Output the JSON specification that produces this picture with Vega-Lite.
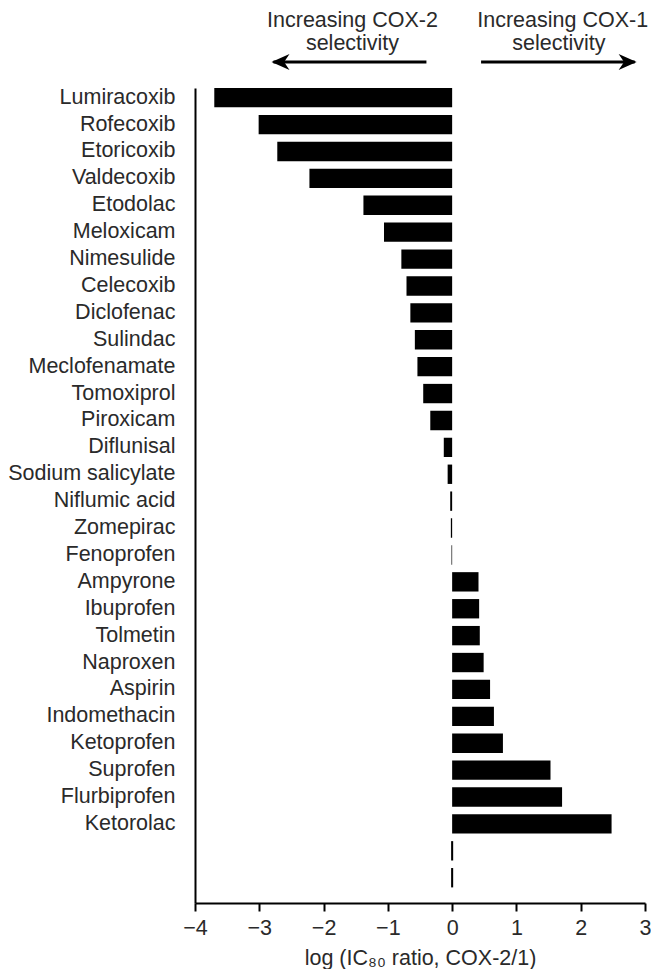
{
  "$schema": "https://vega.github.io/schema/vega-lite/v6.json",
  "background": "white",
  "padding": {"left": 7, "top": 5, "right": 0, "bottom": 0},
  "spacing": 11,
  "config": {
    "view": {"stroke": null},
    "font": "Liberation Sans",
    "text": {"font": "Liberation Sans"}
  },
  "vconcat": [
    {
      "width": 450,
      "height": 70,
      "data": {"values": [
        {"x": -1.55, "y": 1.6, "t": "Increasing COX-2"},
        {"x": -1.55, "y": 3.9, "t": "selectivity"},
        {"x": 1.72, "y": 1.6, "t": "Increasing COX-1"},
        {"x": 1.66, "y": 3.9, "t": "selectivity"}
      ]},
      "layer": [
        {
          "mark": {"type": "text", "fontSize": 21.5, "color": "#2a2a2a", "baseline": "middle", "align": "center"},
          "encoding": {
            "x": {"field": "x", "type": "quantitative", "scale": {"domain": [-4, 3], "nice": false, "zero": false}, "axis": null},
            "y": {"field": "y", "type": "quantitative", "scale": {"domain": [0, 7], "reverse": true, "nice": false, "zero": false}, "axis": null},
            "text": {"field": "t"}
          }
        },
        {
          "data": {"values": [
            {"x": -0.40, "x2": -2.78, "y": 5.7},
            {"x": 0.45, "x2": 2.84, "y": 5.7}
          ]},
          "mark": {"type": "rule", "strokeWidth": 3, "color": "black"},
          "encoding": {
            "x": {"field": "x", "type": "quantitative"},
            "x2": {"field": "x2"},
            "y": {"field": "y", "type": "quantitative"}
          }
        },
        {
          "data": {"values": [
            {"x": -2.81, "y": 5.7, "dir": "left"}
          ]},
          "mark": {"type": "point", "filled": true, "color": "black", "opacity": 1, "size": 1296, "shape": "M0,0 L1,-0.45 L0.7,0 L1,0.45 Z"},
          "encoding": {
            "x": {"field": "x", "type": "quantitative"},
            "y": {"field": "y", "type": "quantitative"}
          }
        },
        {
          "data": {"values": [
            {"x": 2.87, "y": 5.7, "dir": "right"}
          ]},
          "mark": {"type": "point", "filled": true, "color": "black", "opacity": 1, "size": 1296, "shape": "M0,0 L-1,-0.45 L-0.7,0 L-1,0.45 Z"},
          "encoding": {
            "x": {"field": "x", "type": "quantitative"},
            "y": {"field": "y", "type": "quantitative"}
          }
        }
      ]
    },
    {
      "width": 450,
      "height": 815,
      "data": {"values": [
        {"drug": "Lumiracoxib", "value": -3.70, "gap": false},
        {"drug": "Rofecoxib", "value": -3.01, "gap": false},
        {"drug": "Etoricoxib", "value": -2.72, "gap": false},
        {"drug": "Valdecoxib", "value": -2.22, "gap": false},
        {"drug": "Etodolac", "value": -1.38, "gap": false},
        {"drug": "Meloxicam", "value": -1.06, "gap": false},
        {"drug": "Nimesulide", "value": -0.79, "gap": false},
        {"drug": "Celecoxib", "value": -0.71, "gap": false},
        {"drug": "Diclofenac", "value": -0.65, "gap": false},
        {"drug": "Sulindac", "value": -0.58, "gap": false},
        {"drug": "Meclofenamate", "value": -0.54, "gap": false},
        {"drug": "Tomoxiprol", "value": -0.45, "gap": false},
        {"drug": "Piroxicam", "value": -0.34, "gap": false},
        {"drug": "Diflunisal", "value": -0.13, "gap": false},
        {"drug": "Sodium salicylate", "value": -0.07, "gap": false},
        {"drug": "Niflumic acid", "value": -0.03, "gap": false},
        {"drug": "Zomepirac", "value": -0.02, "gap": false},
        {"drug": "Fenoprofen", "value": -0.01, "gap": false},
        {"drug": "Ampyrone", "value": 0.41, "gap": false},
        {"drug": "Ibuprofen", "value": 0.42, "gap": false},
        {"drug": "Tolmetin", "value": 0.43, "gap": false},
        {"drug": "Naproxen", "value": 0.49, "gap": false},
        {"drug": "Aspirin", "value": 0.59, "gap": false},
        {"drug": "Indomethacin", "value": 0.65, "gap": false},
        {"drug": "Ketoprofen", "value": 0.79, "gap": false},
        {"drug": "Suprofen", "value": 1.53, "gap": false},
        {"drug": "Flurbiprofen", "value": 1.71, "gap": false},
        {"drug": "Ketorolac", "value": 2.48, "gap": false},
        {"drug": " ", "value": 0, "gap": true},
        {"drug": "  ", "value": 0, "gap": true}
      ]},
      "encoding": {
        "y": {
          "field": "drug", "type": "nominal", "sort": null,
          "scale": {"paddingInner": 0.28, "paddingOuter": 0.29, "align": 0},
          "axis": {
            "title": null, "ticks": false, "tickSize": 0, "domain": true,
            "domainColor": "black", "domainWidth": 2,
            "labelFont": "Liberation Sans", "labelFontSize": 21.5, "labelColor": "#2a2a2a",
            "labelPadding": 20, "labelLimit": 300
          }
        }
      },
      "layer": [
        {
          "transform": [{"filter": "!datum.gap"}],
          "mark": {"type": "bar", "color": "black"},
          "encoding": {
            "x": {
              "field": "value", "type": "quantitative",
              "scale": {"domain": [-4, 3], "nice": false},
              "axis": {
                "values": [-4, -3, -2, -1, 0, 1, 2, 3],
                "format": "d",
                "title": "log (IC₈₀ ratio, COX-2/1)",
                "grid": false,
                "domainColor": "black", "domainWidth": 2,
                "tickColor": "black", "tickWidth": 2, "tickSize": 8,
                "labelFont": "Liberation Sans", "labelFontSize": 21.5, "labelColor": "#2a2a2a",
                "labelPadding": 6, "labelFlush": false,
                "titleFont": "Liberation Sans", "titleFontSize": 21.5, "titleFontWeight": "normal",
                "titleColor": "#2a2a2a", "titlePadding": 9
              }
            }
          }
        },
        {
          "transform": [{"filter": "datum.gap"}],
          "mark": {"type": "bar", "color": "black"},
          "encoding": {
            "x": {"datum": -0.016, "type": "quantitative"},
            "x2": {"datum": 0.016}
          }
        }
      ]
    }
  ]
}
